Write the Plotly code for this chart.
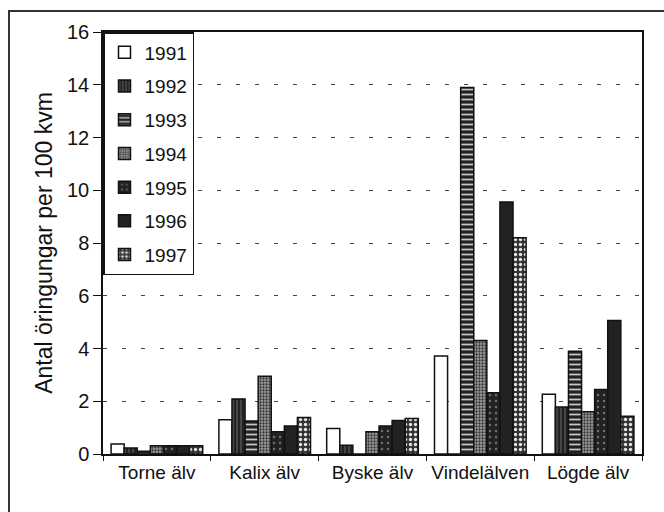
import plotly.graph_objects as go

# Rivers on the x axis
rivers = ["Torne älv", "Kalix älv", "Byske älv", "Vindelälven", "Lögde älv"]

# Trout fry per 100 m², one list per survey year
y1991 = [0.38, 1.30, 0.97, 3.72, 2.27]
y1992 = [0.23, 2.09, 0.33, 0.00, 1.78]
y1993 = [0.10, 1.25, 0.00, 13.90, 3.90]
y1994 = [0.31, 2.95, 0.84, 4.30, 1.60]
y1995 = [0.31, 0.84, 1.06, 2.32, 2.45]
y1996 = [0.31, 1.06, 1.27, 9.55, 5.06]
y1997 = [0.31, 1.38, 1.35, 8.20, 1.43]

years = ["1991", "1992", "1993", "1994", "1995", "1996", "1997"]
series = [y1991, y1992, y1993, y1994, y1995, y1996, y1997]

FONT = "Liberation Sans"
DARK = "#222222"

# Fill pattern per year (monochrome print style)
patterns = [
    dict(shape="", bgcolor="white"),
    dict(shape="|", bgcolor=DARK, fgcolor="#6a6a6a", fgopacity=1, size=4, solidity=0.25),
    dict(shape="-", bgcolor=DARK, fgcolor="#c8c8c8", fgopacity=1, size=5, solidity=0.35),
    dict(shape=".", bgcolor="#a0a0a0", fgcolor="#333333", fgopacity=1, size=3, solidity=0.45),
    dict(shape=".", bgcolor=DARK, fgcolor="#707070", fgopacity=1, size=6, solidity=0.12),
    dict(shape="", bgcolor=DARK),
    dict(shape=".", bgcolor="#333333", fgcolor="#e6e6e6", fgopacity=1, size=5, solidity=0.35),
]
colors = ["white", DARK, DARK, "#a0a0a0", DARK, DARK, "#333333"]

fig = go.Figure()
for name, vals, pat, col in zip(years, series, patterns, colors):
    fig.add_trace(go.Bar(
        x=rivers, y=vals, name=name, legendgroup=name,
        marker=dict(color=col, pattern=pat,
                    line=dict(color="#111111", width=1.5)),
    ))

fig.update_layout(
    width=664, height=512,
    margin=dict(l=103, r=22, t=32, b=58),
    paper_bgcolor="white", plot_bgcolor="white",
    barmode="group", bargap=0.15, bargroupgap=0,
    font=dict(family=FONT, size=19, color="#111111"),
    showlegend=True,
    legend=dict(
        x=0, y=1, xanchor="left", yanchor="top",
        bgcolor="white", bordercolor="#111111", borderwidth=1.5,
        font=dict(size=19), tracegroupgap=6, itemwidth=30,
    ),
    xaxis=dict(
        showline=True, linecolor="#111111", linewidth=1.5, mirror=True,
        ticks="outside", tickson="boundaries", ticklen=5, tickcolor="#111111",
        tickwidth=1.2, showgrid=False, tickfont=dict(size=19),
    ),
    yaxis=dict(
        range=[0, 16], dtick=2, tick0=0,
        showline=True, linecolor="#111111", linewidth=1.5, mirror=True,
        ticks="outside", ticklen=8, tickcolor="#111111", tickwidth=1.2,
        showgrid=True, gridcolor="#444444", gridwidth=1, griddash="4px,15px",
        zeroline=False, tickfont=dict(size=20),
        title=dict(text="Antal öringungar per 100 kvm", font=dict(size=23), standoff=8),
    ),
)

# Outer frame around the whole chart
fig.add_shape(type="rect", xref="paper", yref="paper",
              x0=-0.1744, x1=1.1, y0=-0.3, y1=1.0498,
              line=dict(color="#333333", width=2), fillcolor="rgba(0,0,0,0)",
              layer="above")

fig.write_html("out.html")
